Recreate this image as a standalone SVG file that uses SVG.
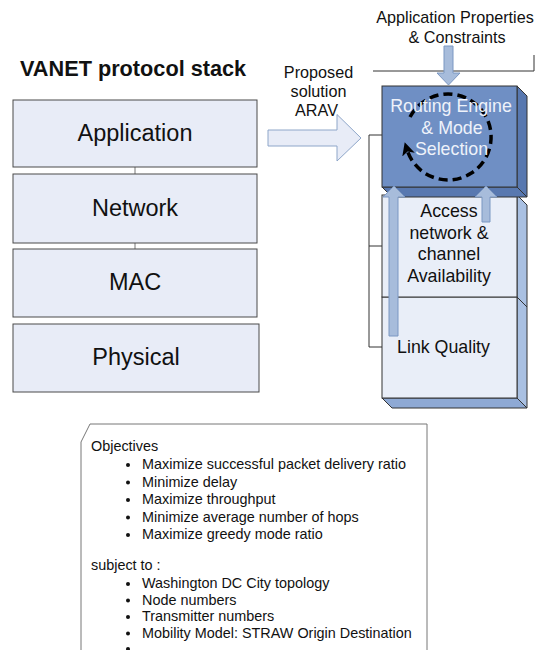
<svg xmlns="http://www.w3.org/2000/svg" width="539" height="650" viewBox="0 0 539 650">
  <style>
    text { font-family: "Liberation Sans", Arial, sans-serif; fill: #111; }
    .layer { fill: #e8ecf7; stroke: #4a4a4a; stroke-width: 1; }
    .layer-label { font-size: 23.5px; text-anchor: middle; }
    .title { font-size: 21.7px; font-weight: bold; }
    .note { font-size: 16.2px; text-anchor: middle; }
    .cube-front { fill: #e9eef8; stroke: #333; stroke-width: 1; }
    .cube-side { fill: #a9c0e2; stroke: #333; stroke-width: 1; }
    .cube-bottom { fill: #8ea9d4; stroke: #333; stroke-width: 1; }
    .engine-front { fill: #6f8fc4; stroke: #333; stroke-width: 1; }
    .engine-side { fill: #5878b0; stroke: #333; stroke-width: 1; }
    .cube-label { font-size: 17.8px; text-anchor: middle; }
    .engine-label { font-size: 17.8px; text-anchor: middle; fill: #eef2fa; }
    .flow { fill: #a7bcdb; stroke: #7b97c2; stroke-width: 1; }
    .wire { fill: none; stroke: #333; stroke-width: 1; }
    .stack-link { fill: none; stroke: #777; stroke-width: 1; }
    .list { font-size: 14.4px; }
    .dot { fill: #111; }
  </style>
  <defs>
    <marker id="loop-head" viewBox="0 0 10 10" refX="4" refY="5" markerWidth="13" markerHeight="13" markerUnits="userSpaceOnUse" orient="auto">
      <path d="M0,0 L10,5 L0,10 L2.5,5 z" fill="#000"/>
    </marker>
  </defs>

  <!-- left: protocol stack -->
  <text class="title" x="20" y="76">VANET protocol stack</text>

  <g id="stack-links">
    <line class="stack-link" x1="135" y1="167" x2="135" y2="174"/>
    <line class="stack-link" x1="135" y1="243" x2="135" y2="249"/>
  </g>

  <g id="layer-application">
    <rect class="layer" x="13" y="100" width="244" height="67"/>
    <text class="layer-label" x="135" y="141">Application</text>
  </g>
  <g id="layer-network">
    <rect class="layer" x="13" y="174" width="244" height="69"/>
    <text class="layer-label" x="135" y="216">Network</text>
  </g>
  <g id="layer-mac">
    <rect class="layer" x="13" y="249" width="244" height="68"/>
    <text class="layer-label" x="135" y="290">MAC</text>
  </g>
  <g id="layer-physical">
    <rect class="layer" x="13" y="324" width="246" height="68"/>
    <text class="layer-label" x="136" y="365">Physical</text>
  </g>

  <!-- proposed solution block arrow -->
  <g id="proposal">
    <polygon points="268,130 337,130 337,114.5 361,138 337,161 337,146 268,146" fill="#e8ecf7" stroke="#8ea6c9" stroke-width="1"/>
    <text class="note" x="318.5" y="78">Proposed</text>
    <text class="note" x="318.5" y="97">solution</text>
    <text class="note" x="316.5" y="116">ARAV</text>
  </g>

  <!-- connectors -->
  <g id="connectors">
    <!-- constraints bracket -->
    <polyline class="wire" points="373,71 534,71 534,55"/>
    <!-- left bracket joining the three blocks -->
    <polyline class="wire" points="382,135 369,135 369,347 382,347"/>
    <line class="wire" x1="369" y1="246" x2="382" y2="246"/>
  </g>

  <!-- right: ARAV blocks -->
  <g id="link-quality">
    <polygon class="cube-bottom" points="382,398 517,398 527,408 392,408"/>
    <polygon class="cube-side" points="517,297 527,307 527,408 517,398"/>
    <rect class="cube-front" x="382" y="297" width="135" height="101"/>
    <text class="cube-label" x="443.5" y="353">Link Quality</text>
  </g>

  <g id="access-availability">
    <polygon class="cube-side" points="517,195 527,205 527,307 517,297"/>
    <rect class="cube-front" x="382" y="195" width="135" height="102"/>
    <text class="cube-label" x="449" y="217">Access</text>
    <text class="cube-label" x="449" y="238.7">network &amp;</text>
    <text class="cube-label" x="449" y="260.4">channel</text>
    <text class="cube-label" x="449" y="282">Availability</text>
  </g>

  <g id="routing-engine">
    <polygon class="engine-side" points="382,187 517,187 527,197 392,197"/>
    <polygon class="engine-side" points="517,86 527,96 527,197 517,187"/>
    <rect class="engine-front" x="382" y="86" width="135" height="101"/>
    <!-- clockwise decision loop -->
    <path d="M410,117 A43,43 0 1 1 407,149.6" fill="none" stroke="#000" stroke-width="3.5" stroke-dasharray="9 5" marker-end="url(#loop-head)"/>
    <text class="engine-label" x="451" y="112">Routing Engine</text>
    <text class="engine-label" x="452" y="134">&amp; Mode</text>
    <text class="engine-label" x="451.5" y="155">Selection</text>
  </g>

  <g id="flows">
    <!-- constraints into the engine -->
    <polygon class="flow" points="444,46 453,46 453,73 460,73 448.5,85 437,73 444,73"/>
    <!-- link quality up to the engine -->
    <polygon class="flow" points="389,336 398,336 398,197 405,197 394,186 383,197 389,197"/>
    <!-- availability up to the engine -->
    <polygon class="flow" points="482,222 490,222 490,197 497,197 486,186 475,197 482,197"/>
  </g>

  <g id="constraints-label">
    <text class="note" x="455" y="23">Application Properties</text>
    <text class="note" x="457" y="43">&amp; Constraints</text>
  </g>

  <!-- objectives panel -->
  <g id="objectives">
    <polygon points="90,424 427,424 427,660 81,660 81,442" fill="#fff" stroke="#777" stroke-width="1"/>
    <text class="list" x="91" y="451">Objectives</text>
    <circle class="dot" cx="128" cy="465" r="2"/>
    <text class="list" x="142" y="469">Maximize successful packet delivery ratio</text>
    <circle class="dot" cx="128" cy="482.5" r="2"/>
    <text class="list" x="142" y="486.5">Minimize delay</text>
    <circle class="dot" cx="128" cy="500" r="2"/>
    <text class="list" x="142" y="504">Maximize throughput</text>
    <circle class="dot" cx="128" cy="517.5" r="2"/>
    <text class="list" x="142" y="521.5">Minimize average number of hops</text>
    <circle class="dot" cx="128" cy="535" r="2"/>
    <text class="list" x="142" y="539">Maximize greedy mode ratio</text>

    <text class="list" x="91" y="570">subject to :</text>
    <circle class="dot" cx="128" cy="584" r="2"/>
    <text class="list" x="142" y="588">Washington DC City topology</text>
    <circle class="dot" cx="128" cy="600.5" r="2"/>
    <text class="list" x="142" y="604.5">Node numbers</text>
    <circle class="dot" cx="128" cy="617" r="2"/>
    <text class="list" x="142" y="621">Transmitter numbers</text>
    <circle class="dot" cx="128" cy="633.5" r="2"/>
    <text class="list" x="142" y="637.5">Mobility Model: STRAW Origin Destination</text>
    <circle class="dot" cx="128" cy="649" r="2"/>
  </g>
</svg>
